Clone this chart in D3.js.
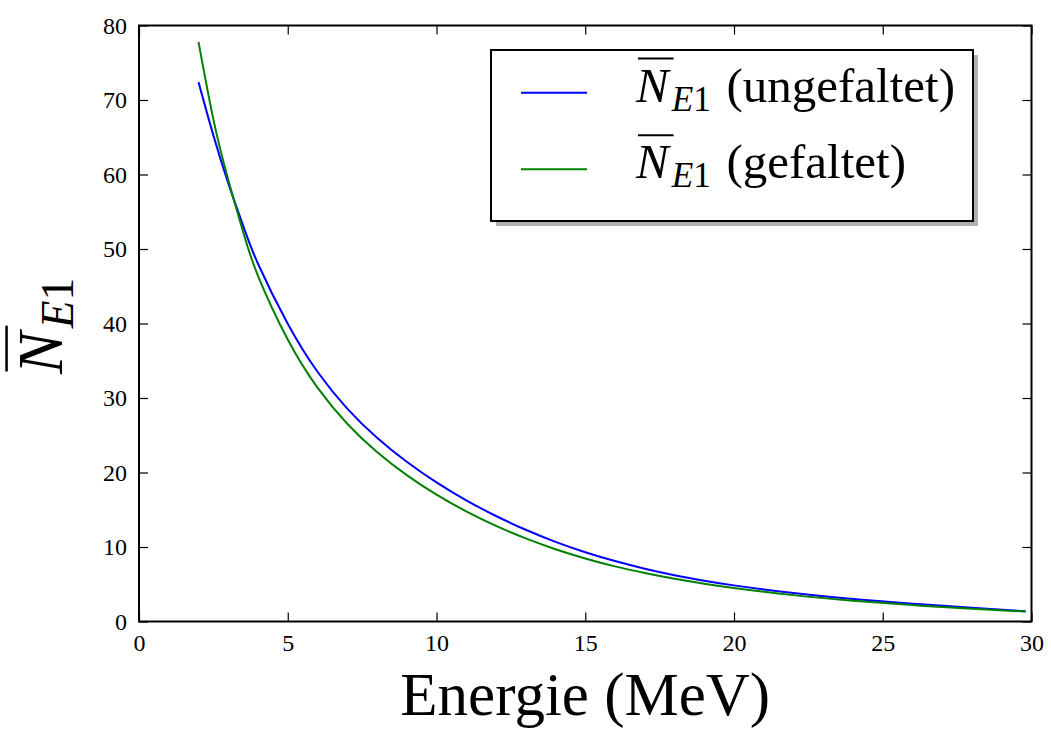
<!DOCTYPE html>
<html>
<head>
<meta charset="utf-8">
<script src="https://cdn.jsdelivr.net/npm/d3@7"></script>
<style>
  body { margin: 0; background: #fff; }
  text { font-family: "Liberation Serif", "DejaVu Serif", serif; fill: #000; }
</style>
</head>
<body>
<div id="chart"></div>
<script>
// Energie in MeV
const energy = [2.0, 2.5, 3.0, 3.5, 4, 5, 6, 7, 8, 9, 10, 11, 12, 13, 14, 15, 16, 17, 18, 19, 20, 22, 24, 26, 28, 29.8];
// N_E1 ungefaltet / gefaltet
const ungefaltet = [72.4, 65.25, 58.85, 53.13, 48.02, 39.97, 33.52, 28.57, 24.67, 21.45, 18.68, 16.27, 14.16, 12.31, 10.69, 9.30, 8.11, 7.09, 6.22, 5.48, 4.85, 3.82, 3.03, 2.39, 1.83, 1.37];
const gefaltet = [77.8, 67.4, 59.3, 52.3, 46.4, 37.85, 31.4, 26.55, 22.75, 19.65, 17.03, 14.78, 12.83, 11.15, 9.70, 8.46, 7.40, 6.52, 5.75, 5.08, 4.5, 3.54, 2.80, 2.20, 1.70, 1.33];

const xTicks = [0, 5, 10, 15, 20, 25, 30];
const yTicks = [0, 10, 20, 30, 40, 50, 60, 70, 80];
const seriesNames = ['(ungefaltet)', '(gefaltet)'];
const seriesColors = ['#0000ff', '#008000'];

const width = 1051, height = 729;
const margin = { top: 25.5, right: 19.5, bottom: 107.5, left: 139 };

const svg = d3.select('#chart')
    .append('svg')
    .attr('width', width)
    .attr('height', height)
    .style('display', 'block');

const x = d3.scaleLinear().domain([0, 30]).range([margin.left, width - margin.right]);
const y = d3.scaleLinear().domain([0, 80]).range([height - margin.bottom, margin.top]);

// ticks inward on all four sides (matplotlib classic look)
const tickLen = -9;
const styleAxis = g => {
    g.select('.domain').remove();
    g.selectAll('.tick line').attr('stroke', '#000').attr('stroke-width', 1.2);
    g.selectAll('.tick text').attr('font-size', 24);
};

svg.append('g')
    .attr('transform', `translate(0,${y(0)})`)
    .call(d3.axisBottom(x).tickValues(xTicks).tickSizeInner(tickLen).tickSizeOuter(0).tickPadding(12))
    .call(styleAxis);
svg.append('g')
    .attr('transform', `translate(0,${y(80)})`)
    .call(d3.axisTop(x).tickValues(xTicks).tickSizeInner(tickLen).tickSizeOuter(0).tickFormat(''))
    .call(styleAxis);
svg.append('g')
    .attr('transform', `translate(${x(0)},0)`)
    .call(d3.axisLeft(y).tickValues(yTicks).tickSizeInner(tickLen).tickSizeOuter(0).tickPadding(12))
    .call(styleAxis);
svg.append('g')
    .attr('transform', `translate(${x(30)},0)`)
    .call(d3.axisRight(y).tickValues(yTicks).tickSizeInner(tickLen).tickSizeOuter(0).tickFormat(''))
    .call(styleAxis);

// curves
const line = d3.line()
    .x(d => x(d[0]))
    .y(d => y(d[1]))
    .curve(d3.curveNatural);

[ungefaltet, gefaltet].forEach((vals, i) => {
    svg.append('path')
        .datum(energy.map((e, j) => [e, vals[j]]))
        .attr('fill', 'none')
        .attr('stroke', seriesColors[i])
        .attr('stroke-width', 2)
        .attr('d', line);
});

// frame
svg.append('rect')
    .attr('x', x(0))
    .attr('y', y(80))
    .attr('width', x(30) - x(0))
    .attr('height', y(0) - y(80))
    .attr('fill', 'none')
    .attr('stroke', '#000')
    .attr('stroke-width', 2);

// N-bar with subscript E1, optionally followed by plain text
function nBar(g, x0, y0, size, suffix) {
    const n = g.append('text')
        .attr('x', x0).attr('y', y0)
        .attr('font-size', size)
        .attr('font-style', 'italic')
        .text('N');
    const w = n.node().getComputedTextLength();
    g.append('line')
        .attr('x1', x0 + size * 0.04).attr('x2', x0 + w + size * 0.1)
        .attr('y1', y0 - size * 0.88).attr('y2', y0 - size * 0.88)
        .attr('stroke', '#000').attr('stroke-width', size * 0.04);
    const sub = g.append('text')
        .attr('x', x0 + w + size * 0.06).attr('y', y0 + size * 0.18)
        .attr('font-size', size * 0.72);
    sub.append('tspan').attr('font-style', 'italic').text('E');
    sub.append('tspan').text('1');
    const sw = sub.node().getComputedTextLength();
    if (suffix) {
        g.append('text')
            .attr('x', x0 + w + size * 0.06 + sw + size * 0.32)
            .attr('y', y0)
            .attr('font-size', size)
            .text(suffix);
    }
}

// legend
const legend = svg.append('g');
const lx = 491, ly = 50, lw = 482, lh = 171;
legend.append('rect')
    .attr('x', lx + 5).attr('y', ly + 5)
    .attr('width', lw).attr('height', lh)
    .attr('fill', '#b0b0b0');
legend.append('rect')
    .attr('x', lx).attr('y', ly)
    .attr('width', lw).attr('height', lh)
    .attr('fill', '#fff')
    .attr('stroke', '#000')
    .attr('stroke-width', 2);

seriesNames.forEach((name, i) => {
    const base = 101.7 + i * 76.6;
    legend.append('line')
        .attr('x1', 521).attr('x2', 587)
        .attr('y1', base - 9).attr('y2', base - 9)
        .attr('stroke', seriesColors[i])
        .attr('stroke-width', 2);
    nBar(legend, 636, base, 49, name);
});

// axis labels
svg.append('text')
    .attr('x', (x(0) + x(30)) / 2)
    .attr('y', 715)
    .attr('text-anchor', 'middle')
    .attr('font-size', 61)
    .text('Energie (MeV)');

const yLabel = svg.append('g')
    .attr('transform', 'translate(62,374) rotate(-90)');
nBar(yLabel, 0, 0, 63, null);
</script>
</body>
</html>
